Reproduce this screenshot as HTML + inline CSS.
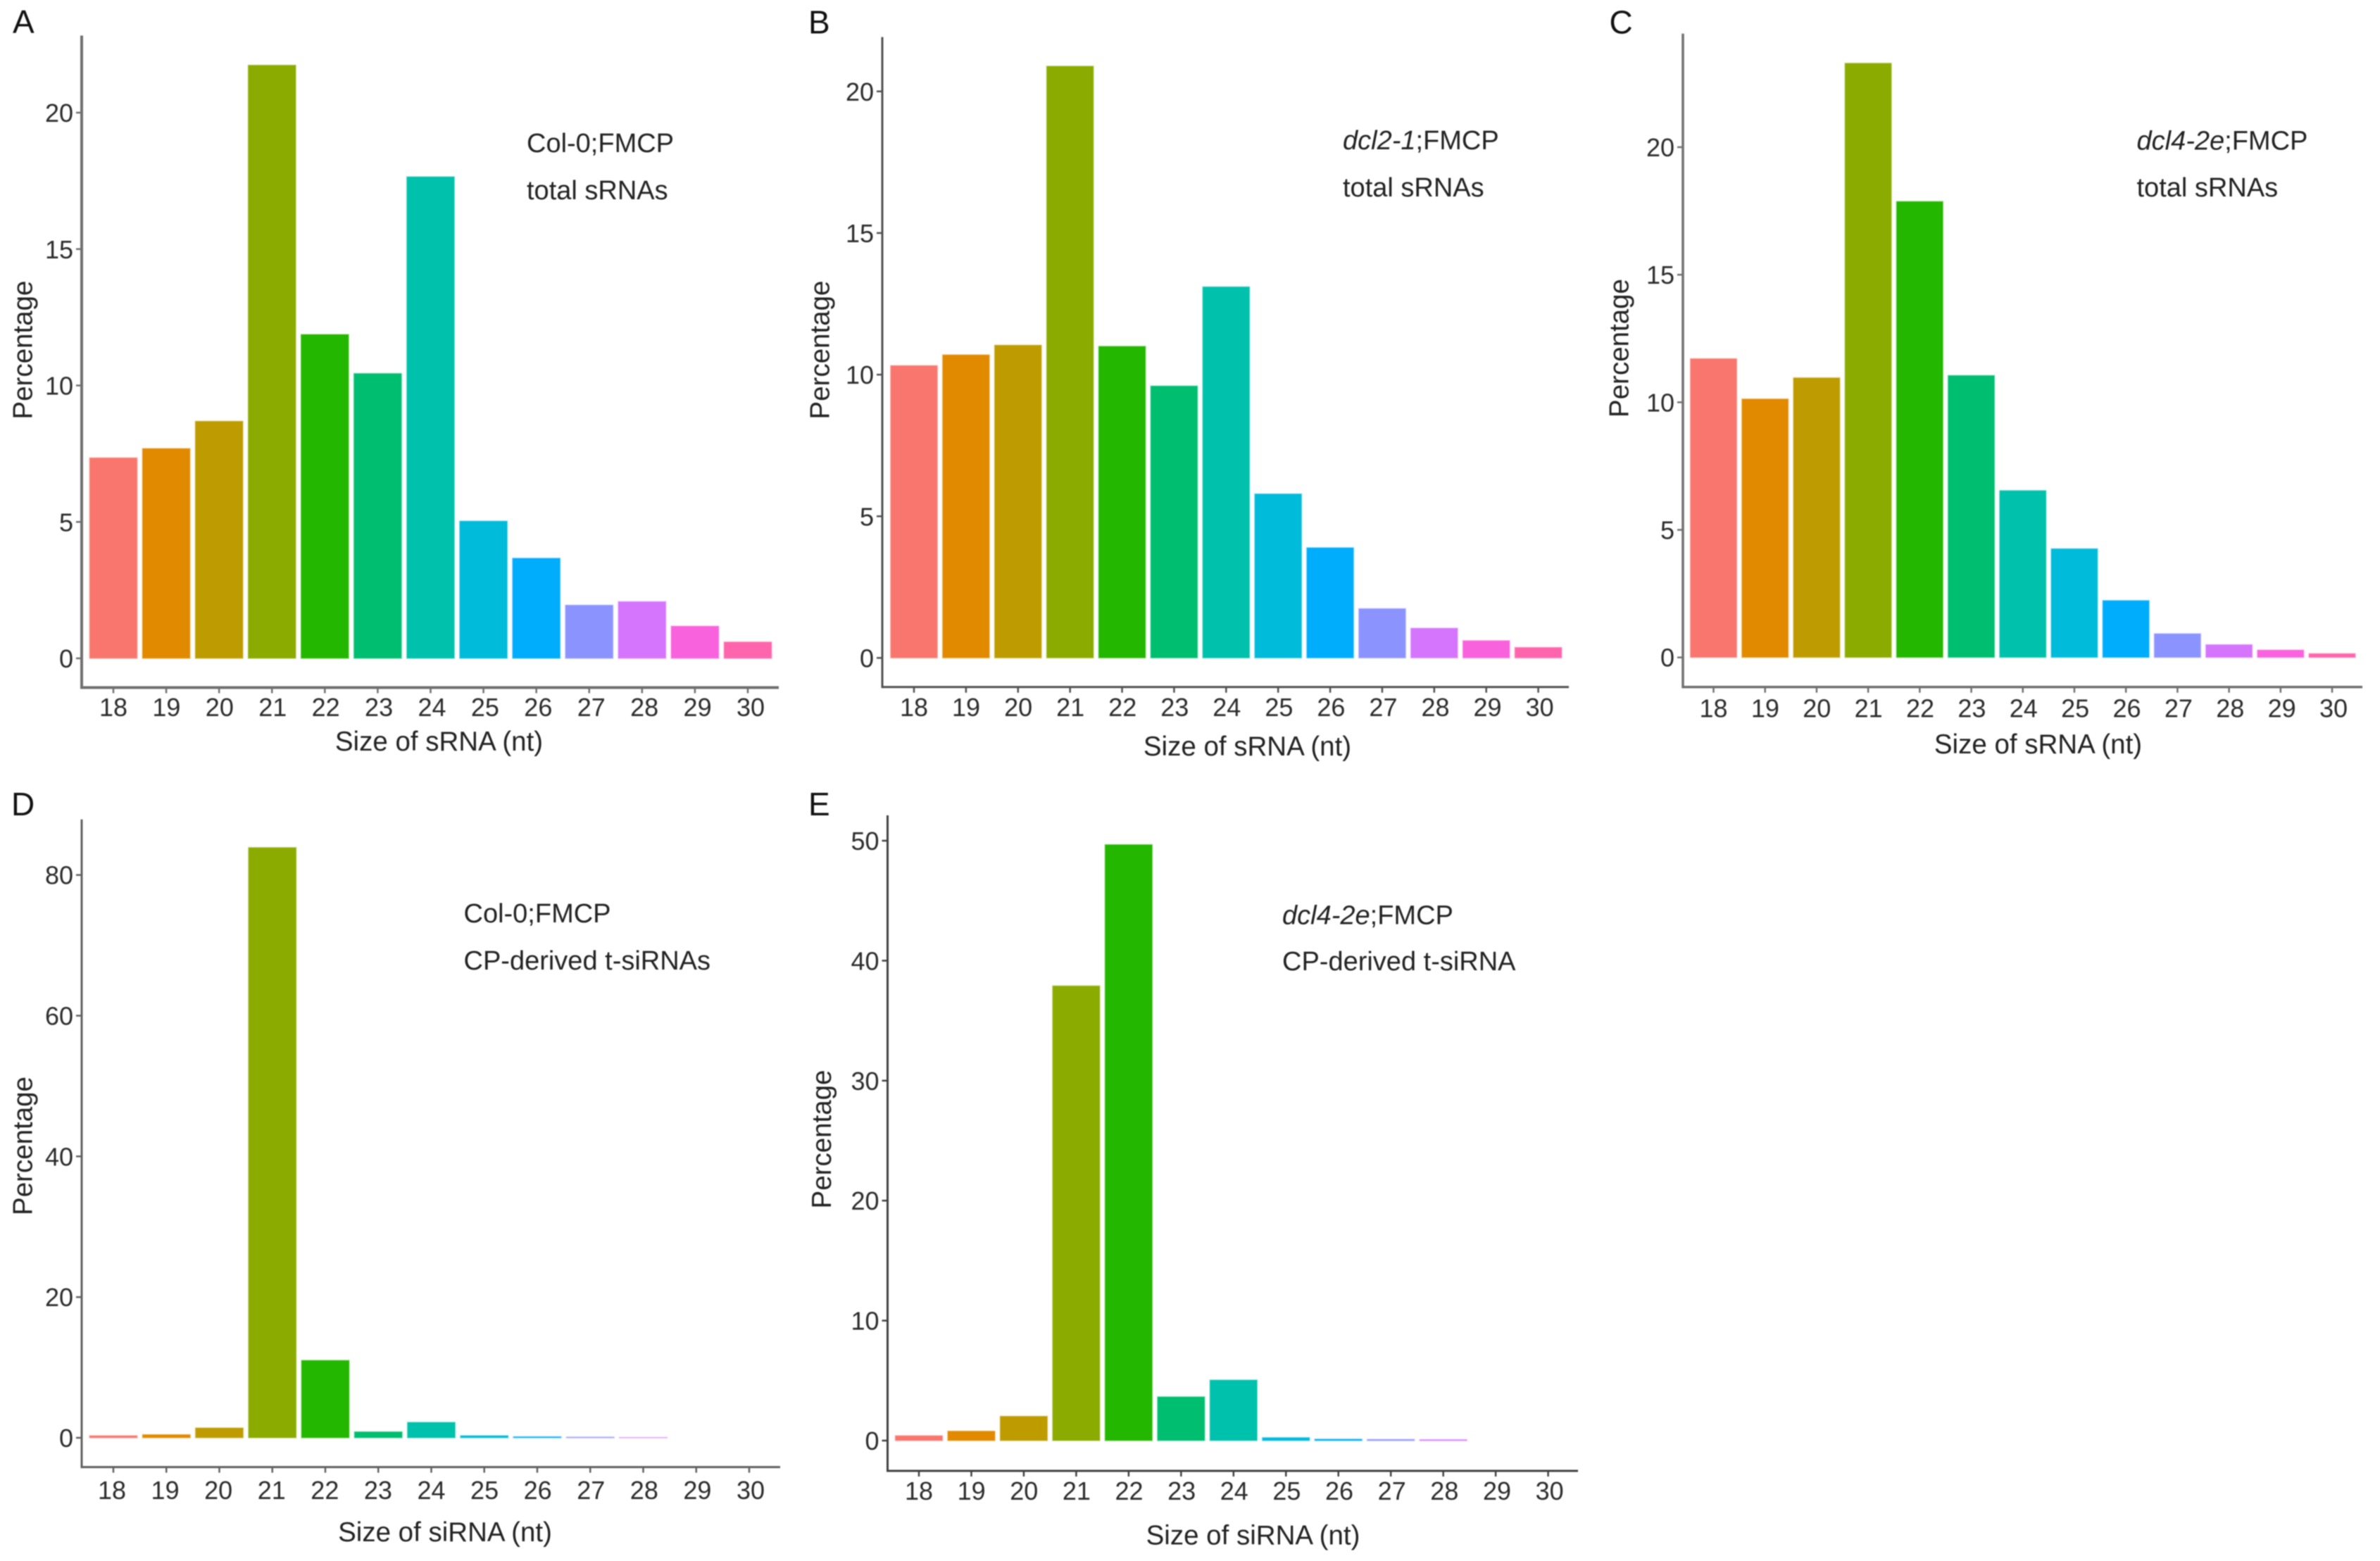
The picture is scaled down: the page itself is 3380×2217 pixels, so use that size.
<!DOCTYPE html>
<html lang="en">
<head>
<meta charset="utf-8">
<title>sRNA size distribution panels</title>
<style>
  html, body { margin: 0; padding: 0; background: #fff; }
  svg { display: block; font-family: "Liberation Sans", Arial, sans-serif; filter: blur(0.8px); }
  .letter { font-size: 46px; fill: #111; }
  .note { font-size: 38px; fill: #222; }
  .title { font-size: 38.5px; fill: #222; }
  .tick-label { font-size: 36px; fill: #2b2b2b; }
</style>
</head>
<body>
<svg id="figure" xmlns="http://www.w3.org/2000/svg" width="3380" height="2217" viewBox="0 0 3380 2217">
  <rect x="0" y="0" width="3380" height="2217" fill="#ffffff"/>

  <g id="panel-a">
    <text class="letter" x="18" y="47">A</text>
    <text class="note" x="748" y="216">Col-0;FMCP</text>
    <text class="note" x="748" y="283">total sRNAs</text>
    <text class="title" x="623.5" y="1066" text-anchor="middle">Size of sRNA (nt)</text>
    <text class="title" x="45.5" y="497" text-anchor="middle" transform="rotate(-90 45.5 497)">Percentage</text>
  </g>

  <g id="panel-b">
    <text class="letter" x="1148" y="47.5">B</text>
    <text class="note" x="1907" y="212"><tspan font-style="italic">dcl2-1</tspan>;FMCP</text>
    <text class="note" x="1907" y="279">total sRNAs</text>
    <text class="title" x="1771.5" y="1073" text-anchor="middle">Size of sRNA (nt)</text>
    <text class="title" x="1177.5" y="497" text-anchor="middle" transform="rotate(-90 1177.5 497)">Percentage</text>
  </g>

  <g id="panel-c">
    <text class="letter" x="2285.5" y="47.5">C</text>
    <text class="note" x="3034.5" y="212.5"><tspan font-style="italic">dcl4-2e</tspan>;FMCP</text>
    <text class="note" x="3034.5" y="279">total sRNAs</text>
    <text class="title" x="2894.5" y="1070" text-anchor="middle">Size of sRNA (nt)</text>
    <text class="title" x="2312.5" y="494.5" text-anchor="middle" transform="rotate(-90 2312.5 494.5)">Percentage</text>
  </g>

  <g id="panel-d">
    <text class="letter" x="16" y="1158">D</text>
    <text class="note" x="658.5" y="1310">Col-0;FMCP</text>
    <text class="note" x="658.5" y="1377">CP-derived t-siRNAs</text>
    <text class="title" x="632" y="2189" text-anchor="middle">Size of siRNA (nt)</text>
    <text class="title" x="45.5" y="1627.5" text-anchor="middle" transform="rotate(-90 45.5 1627.5)">Percentage</text>
  </g>

  <g id="panel-e">
    <text class="letter" x="1148" y="1158">E</text>
    <text class="note" x="1821" y="1312.5"><tspan font-style="italic">dcl4-2e</tspan>;FMCP</text>
    <text class="note" x="1821" y="1378">CP-derived t-siRNA</text>
    <text class="title" x="1779.5" y="2193.5" text-anchor="middle">Size of siRNA (nt)</text>
    <text class="title" x="1180" y="1618" text-anchor="middle" transform="rotate(-90 1180 1618)">Percentage</text>
  </g>
</svg>

<script>
const categories = ["18","19","20","21","22","23","24","25","26","27","28","29","30"];
const barColors = ["#F8766D","#E18A00","#BE9C00","#8CAB00","#24B700","#00BE70","#00C1AB","#00BBDA","#00ACFC","#8B93FF","#D575FE","#F962DD","#FF65AC"];

const valuesA = [7.35,7.69,8.69,21.74,11.87,10.44,17.65,5.03,3.67,1.95,2.08,1.18,0.6];
const valuesB = [10.32,10.7,11.04,20.89,11.0,9.6,13.1,5.79,3.89,1.74,1.05,0.61,0.37];
const valuesC = [11.71,10.13,10.96,23.29,17.87,11.05,6.54,4.26,2.23,0.93,0.5,0.29,0.15];
const valuesD = [0.3,0.45,1.4,83.9,11.0,0.85,2.2,0.3,0.15,0.1,0.05,0,0];
const valuesE = [0.41,0.79,2.03,37.9,49.67,3.65,5.05,0.25,0.12,0.1,0.08,0,0];

const ticksA = [0,5,10,15,20];
const ticksB = [0,5,10,15,20];
const ticksC = [0,5,10,15,20];
const ticksD = [0,20,40,60,80];
const ticksE = [0,10,20,30,40,50];

const SVG_NS = "http://www.w3.org/2000/svg";

function makeEl(tag, attrs, parent) {
  const el = document.createElementNS(SVG_NS, tag);
  Object.keys(attrs).forEach(function (k) { el.setAttribute(k, attrs[k]); });
  parent.appendChild(el);
  return el;
}

function drawPanel(cfg) {
  const parent = document.getElementById(cfg.id);
  const last = categories.length - 1;
  const yScale = function (v) { return cfg.zeroY - v * (cfg.zeroY - cfg.refY) / cfg.refVal; };
  const xScale = function (i) { return cfg.firstX + i * (cfg.lastX - cfg.firstX) / last; };
  const step = (cfg.lastX - cfg.firstX) / last;
  const barW = step * 0.9;

  cfg.values.forEach(function (v, i) {
    if (v <= 0) return;
    const top = yScale(v);
    const bar = makeEl("rect", {
      x: xScale(i) - barW / 2,
      y: top,
      width: barW,
      height: cfg.zeroY - top,
      fill: barColors[i],
      stroke: barColors[i],
      "stroke-opacity": 0.3,
      "stroke-width": 2
    }, parent);
    
    
  });

  const yAxis = makeEl("line", { x1: cfg.axisX, x2: cfg.axisX, y1: cfg.axisTop, y2: cfg.axisY + cfg.lineW / 2, stroke: cfg.lineColor, "stroke-width": cfg.lineW }, parent);
  
  

  const xAxis = makeEl("line", { x1: cfg.axisX, x2: cfg.axisRight, y1: cfg.axisY, y2: cfg.axisY, stroke: cfg.lineColor, "stroke-width": cfg.lineW }, parent);
  
  

  cfg.ticks.forEach(function (t) {
    const y = yScale(t);
    const mark = makeEl("line", { x1: cfg.axisX - 8, x2: cfg.axisX, y1: y, y2: y, stroke: cfg.lineColor, "stroke-width": 2.5 }, parent);
    
    
    const label = makeEl("text", { x: cfg.axisX - 12, y: y + 13, "text-anchor": "end", class: "tick-label" }, parent);
    label.textContent = String(t);
    
    
  });

  categories.forEach(function (c, i) {
    const x = xScale(i);
    const mark = makeEl("line", { x1: x, x2: x, y1: cfg.axisY, y2: cfg.axisY + 8, stroke: cfg.lineColor, "stroke-width": 2.5 }, parent);
    
    
    const labelX = x + cfg.labelShiftFirst + (cfg.labelShiftLast - cfg.labelShiftFirst) * i / last;
    const label = makeEl("text", { x: labelX, y: cfg.tickBase, "text-anchor": "middle", class: "tick-label" }, parent);
    label.textContent = c;
    
    
  });
}

drawPanel({ id: "panel-a", key: "panel-a", values: valuesA, ticks: ticksA, refVal: 20, refY: 160, zeroY: 935, axisX: 116, axisTop: 50.5, axisY: 976.5, axisRight: 1106, firstX: 161, lastX: 1062, tickBase: 1017, labelShiftFirst: 0, labelShiftLast: 4, lineColor: "#707070", lineW: 4 });
drawPanel({ id: "panel-b", key: "panel-b", values: valuesB, ticks: ticksB, refVal: 20, refY: 129.8, zeroY: 934.4, axisX: 1253, axisTop: 52.6, axisY: 975.8, axisRight: 2228, firstX: 1298, lastX: 2184.6, tickBase: 1017, labelShiftFirst: 0, labelShiftLast: 2, lineColor: "#505050", lineW: 3 });
drawPanel({ id: "panel-c", key: "panel-c", values: valuesC, ticks: ticksC, refVal: 20, refY: 209, zeroY: 933.7, axisX: 2390, axisTop: 47.7, axisY: 975.8, axisRight: 3355, firstX: 2433.5, lastX: 3312, tickBase: 1018.6, labelShiftFirst: 0, labelShiftLast: 2, lineColor: "#707070", lineW: 3.5 });
drawPanel({ id: "panel-d", key: "panel-d", values: valuesD, ticks: ticksD, refVal: 80, refY: 1242.7, zeroY: 2042, axisX: 116, axisTop: 1163.7, axisY: 2083.6, axisRight: 1108, firstX: 161, lastX: 1064, tickBase: 2128.8, labelShiftFirst: -2, labelShiftLast: 2, lineColor: "#606060", lineW: 3 });
drawPanel({ id: "panel-e", key: "panel-e", values: valuesE, ticks: ticksE, refVal: 50, refY: 1194, zeroY: 2046, axisX: 1260.5, axisTop: 1158, axisY: 2089, axisRight: 2241, firstX: 1305, lastX: 2198.6, tickBase: 2130, labelShiftFirst: 0, labelShiftLast: 2, lineColor: "#404040", lineW: 3 });
</script>
</body>
</html>
